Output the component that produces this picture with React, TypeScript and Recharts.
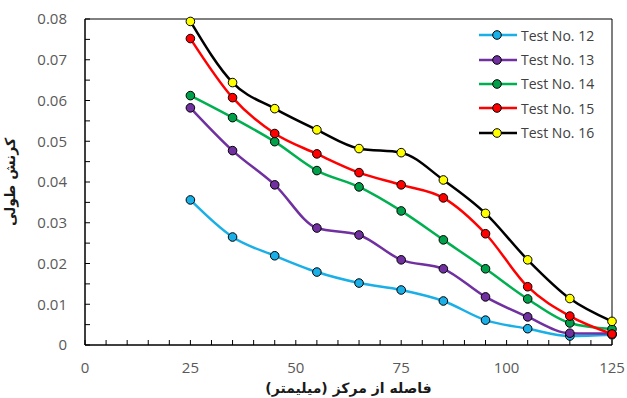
import { LineChart, Line, XAxis, YAxis, ReferenceArea, Label } from "recharts";

// distance from centre (mm)
const distance = [25, 35, 45, 55, 65, 75, 85, 95, 105, 115, 125];

const test12 = [0.0356, 0.0265, 0.0219, 0.0179, 0.0152, 0.0135, 0.0108, 0.0061, 0.004, 0.0022, 0.0025];
const test13 = [0.0582, 0.0477, 0.0393, 0.0287, 0.027, 0.0209, 0.0187, 0.0118, 0.0069, 0.0029, 0.0028];
const test14 = [0.0612, 0.0558, 0.0499, 0.0428, 0.0388, 0.0329, 0.0258, 0.0187, 0.0113, 0.0054, 0.0039];
const test15 = [0.0752, 0.0607, 0.0519, 0.0469, 0.0423, 0.0393, 0.0361, 0.0273, 0.0143, 0.0071, 0.0027];
const test16 = [0.0794, 0.0644, 0.058, 0.0528, 0.0482, 0.0472, 0.0405, 0.0323, 0.0209, 0.0114, 0.0058];

const xTicks = [0, 5, 10, 15, 20, 25, 30, 35, 40, 45, 50, 55, 60, 65, 70, 75, 80, 85, 90, 95, 100, 105, 110, 115, 120, 125];
const yTicks = [0, 0.005, 0.01, 0.015, 0.02, 0.025, 0.03, 0.035, 0.04, 0.045, 0.05, 0.055, 0.06, 0.065, 0.07, 0.075, 0.08];

const series = [
  { key: "t12", name: "Test No. 12", values: test12, line: "#1AAFE6", dot: "#1AAFE6" },
  { key: "t13", name: "Test No. 13", values: test13, line: "#7030A0", dot: "#7030A0" },
  { key: "t14", name: "Test No. 14", values: test14, line: "#00B050", dot: "#00A04A" },
  { key: "t15", name: "Test No. 15", values: test15, line: "#FF0000", dot: "#FF0000" },
  { key: "t16", name: "Test No. 16", values: test16, line: "#000000", dot: "#FFFF00" },
];

const data = distance.map((d, i) => {
  const row: Record<string, number> = { x: d };
  series.forEach((s) => (row[s.key] = s.values[i]));
  return row;
});

const tickFont = { fontFamily: "'Open Sans', sans-serif", fontSize: 15, fill: "#595959" };
const titleFont = { fontFamily: "'DejaVu Sans', sans-serif", fontSize: 14, fontWeight: 700, fill: "#1a1a1a" };

function XTick(props: any) {
  const { x, y, payload } = props;
  const v = payload.value;
  return (
    <g>
      <line x1={x} x2={x} y1={y} y2={y - 5} stroke="#000" strokeWidth={1} />
      {v % 25 === 0 && (
        <text x={x} y={y + 28} textAnchor="middle" {...tickFont}>
          {v}
        </text>
      )}
    </g>
  );
}

function YTick(props: any) {
  const { x, y, payload } = props;
  const v = payload.value;
  const major = Math.round(v * 1000) % 10 === 0;
  return (
    <g>
      <line x1={x} x2={x + 5} y1={y} y2={y} stroke="#000" strokeWidth={1} />
      {major && (
        <text x={x - 18} y={y} dy="0.36em" textAnchor="end" {...tickFont}>
          {v === 0 ? "0" : v.toFixed(2)}
        </text>
      )}
    </g>
  );
}

function LegendBox() {
  return (
    <div
      style={{
        position: "absolute",
        top: 23,
        left: 479,
        fontFamily: "'Open Sans', sans-serif",
        fontSize: 14,
        color: "#404040",
      }}
    >
      {series.map((s) => (
        <div key={s.key} style={{ display: "flex", alignItems: "center", height: 24.4 }}>
          <svg width={40} height={12} style={{ display: "block" }}>
            <line x1={0} x2={38} y1={6} y2={6} stroke={s.line} strokeWidth={2.5} />
            <circle cx={18} cy={6} r={4.3} fill={s.dot} stroke="#000" strokeWidth={1} />
          </svg>
          <span style={{ marginLeft: 2, whiteSpace: "nowrap" }}>{s.name}</span>
        </div>
      ))}
    </div>
  );
}

export default function App() {
  return (
    <div style={{ position: "absolute", left: 0, top: 0, width: 627, height: 398, background: "#fff" }}>
      <LineChart width={627} height={398} data={data} margin={{ top: 19, right: 15, bottom: 0, left: 0 }}>
        <XAxis
          dataKey="x"
          type="number"
          domain={[0, 125]}
          ticks={xTicks}
          interval={0}
          height={53}
          tickSize={0}
          tickMargin={0}
          tickLine={false}
          tick={<XTick />}
          axisLine={{ stroke: "#000", strokeWidth: 1 }}
        >
          <Label value="فاصله از مرکز (میلیمتر)" position="insideBottom" offset={5} style={titleFont} />
        </XAxis>
        <YAxis
          type="number"
          domain={[0, 0.08]}
          ticks={yTicks}
          interval={0}
          width={85}
          tickSize={0}
          tickMargin={0}
          tickLine={false}
          tick={<YTick />}
          axisLine={{ stroke: "#000", strokeWidth: 1 }}
        >
          <Label
            value="کرنش طولی"
            angle={-90}
            position="insideLeft"
            offset={10}
            style={{ ...titleFont, textAnchor: "middle" }}
          />
        </YAxis>
        <ReferenceArea x1={0} x2={125} y1={0} y2={0.08} fill="none" stroke="#000" strokeWidth={1} />
        {series.map((s) => (
          <Line
            key={s.key}
            type="monotone"
            dataKey={s.key}
            name={s.name}
            stroke={s.line}
            strokeWidth={2.5}
            dot={{ r: 4.3, fill: s.dot, stroke: "#000", strokeWidth: 1 }}
            activeDot={false}
            isAnimationActive={false}
          />
        ))}
      </LineChart>
      <LegendBox />
    </div>
  );
}
